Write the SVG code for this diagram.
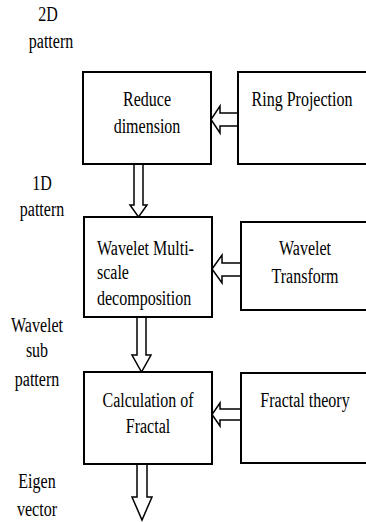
<svg xmlns="http://www.w3.org/2000/svg" width="366" height="522" viewBox="0 0 366 522">
<style>
.box{fill:#fff;stroke:#000;stroke-width:2}
.arr{fill:#fff;stroke:#000;stroke-width:1.5;stroke-linejoin:miter}
.t{font-family:'Liberation Serif','Times New Roman',serif;font-size:16px;fill:#000}
.c{text-anchor:middle}
</style>
<rect width="366" height="522" fill="#fff"/>
<g id="connectors">
<polygon class="arr" points="134,164 143,164 143,205 147,205 138.5,217 130,205 134,205"/>
<polygon class="arr" points="137,317 146,317 146,355 151,355 141.5,372 132,355 137,355"/>
<polygon class="arr" points="137,464 147,464 147,497 152,497 142,520 132,497 137,497"/>
<polygon class="arr" points="238,113 220,113 220,106 211,119.5 220,133 220,126 238,126"/>
<polygon class="arr" points="241,263 222,263 222,255 212,269 222,283 222,276 241,276"/>
<polygon class="arr" points="241,409 220,409 220,403 212,414.5 220,426 220,420 241,420"/>
</g>
<g id="labels">
<text class="t c" transform="translate(48,21) scale(1,1.25)">2D</text>
<text class="t c" transform="translate(51,48) scale(1,1.25)">pattern</text>
<text class="t c" transform="translate(42,190) scale(1,1.25)">1D</text>
<text class="t c" transform="translate(42,216) scale(1,1.25)">pattern</text>
<text class="t c" transform="translate(37,332) scale(1,1.25)">Wavelet</text>
<text class="t c" transform="translate(37,357) scale(1,1.25)">sub</text>
<text class="t c" transform="translate(37,386) scale(1,1.25)">pattern</text>
<text class="t c" transform="translate(37,488) scale(1,1.25)">Eigen</text>
<text class="t c" transform="translate(37,516) scale(1,1.25)">vector</text>
</g>
<g id="reduce">
<rect class="box" x="83" y="72" width="128" height="92"/>
<text class="t c" transform="translate(147,106) scale(1,1.25)">Reduce</text>
<text class="t c" transform="translate(147,133) scale(1,1.25)">dimension</text>
</g>
<g id="ring">
<rect class="box" x="238" y="72" width="130" height="92"/>
<text class="t c" transform="translate(302,106) scale(1,1.25)">Ring Projection</text>
</g>
<g id="wavelet-multi">
<rect class="box" x="84" y="217" width="128" height="100"/>
<text class="t" transform="translate(97,255) scale(1,1.25)">Wavelet Multi-</text>
<text class="t" transform="translate(97,279) scale(1,1.25)">scale</text>
<text class="t" transform="translate(97,305) scale(1,1.25)">decomposition</text>
</g>
<g id="wavelet-transform">
<rect class="box" x="241" y="222" width="127" height="88"/>
<text class="t c" transform="translate(305,255) scale(1,1.25)">Wavelet</text>
<text class="t c" transform="translate(305,283) scale(1,1.25)">Transform</text>
</g>
<g id="calc-fractal">
<rect class="box" x="84" y="372" width="128" height="92"/>
<text class="t c" transform="translate(148,407) scale(1,1.25)">Calculation of</text>
<text class="t c" transform="translate(148,433) scale(1,1.25)">Fractal</text>
</g>
<g id="fractal-theory">
<rect class="box" x="241" y="373" width="127" height="90"/>
<text class="t c" transform="translate(305,407) scale(1,1.25)">Fractal theory</text>
</g>
</svg>
